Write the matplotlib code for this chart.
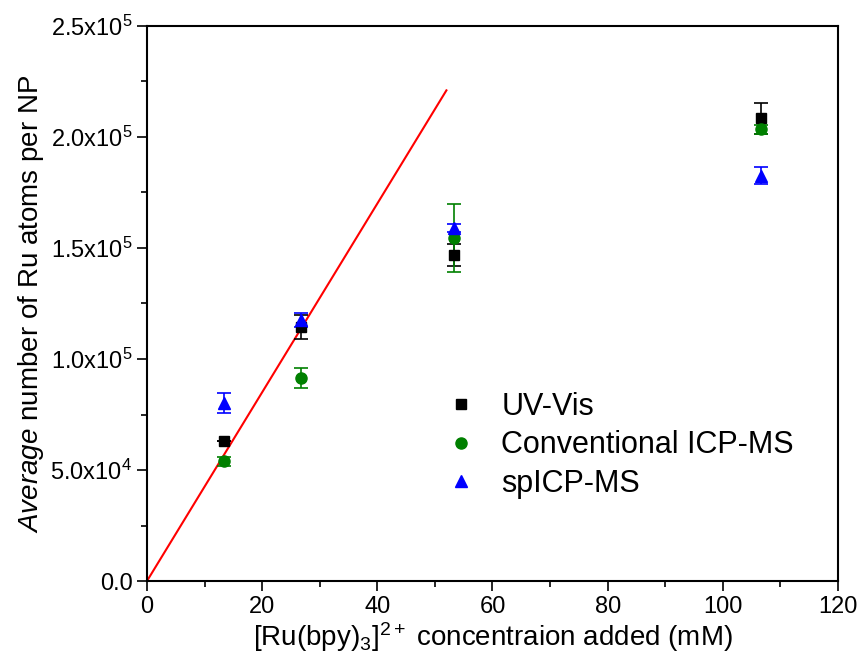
import matplotlib
matplotlib.use("Agg")
import matplotlib.pyplot as plt
from matplotlib.lines import Line2D
import numpy as np

plt.rcParams['font.family'] = ['Liberation Sans', 'DejaVu Sans']
plt.rcParams['mathtext.fontset'] = 'custom'
plt.rcParams['mathtext.rm'] = 'Liberation Sans'
plt.rcParams['mathtext.it'] = 'Liberation Sans:italic'
plt.rcParams['mathtext.default'] = 'regular'

conc = [13.3, 26.7, 53.3, 106.7]
uvvis = [6.3e4, 1.145e5, 1.47e5, 2.085e5]
uvvis_err = [0.0, 0.055e5, 0.05e5, 0.07e5]
conv = [5.4e4, 0.915e5, 1.545e5, 2.035e5]
conv_err = [0.02e5, 0.045e5, 0.155e5, 0.02e5]
sp = [8.0e4, 1.175e5, 1.59e5, 1.825e5]
sp_err = [0.045e5, 0.03e5, 0.02e5, 0.038e5]
fit_x = [0, 52.0]
fit_y = [0, 2.21e5]
labels = ['UV-Vis', 'Conventional ICP-MS', 'spICP-MS']

fig = plt.figure(figsize=(8.6, 6.66), dpi=100)
ax = fig.add_axes([0.1709, 0.1276, 0.8035, 0.8334])

ax.plot(fit_x, fit_y, color='red', lw=1.5, zorder=1)
ax.errorbar(conc, uvvis, yerr=uvvis_err, fmt='s', color='black', ms=7.5,
            capsize=5, elinewidth=1.2, capthick=1.2, zorder=3)
ax.errorbar(conc, conv, yerr=conv_err, fmt='o', color='green', ms=8,
            capsize=5, elinewidth=1.2, capthick=1.2, zorder=3)
ax.errorbar(conc, sp, yerr=sp_err, fmt='^', color='blue', ms=9,
            capsize=5, elinewidth=1.2, capthick=1.2, zorder=3)

ax.set_xlim(0, 120)
ax.set_ylim(0, 2.5e5)
ax.set_xticks(np.arange(0, 121, 20))
ax.set_xticks(np.arange(10, 120, 20), minor=True)
yt = np.arange(0, 2.51e5, 0.5e5)
ax.set_yticks(yt)
ax.set_yticks(np.arange(0.25e5, 2.5e5, 0.5e5), minor=True)
ylabels = ['0.0'] + [r'%.1fx10$^{%d}$' % (v / 10**int(np.floor(np.log10(v))), int(np.floor(np.log10(v)))) for v in yt[1:]]
ax.set_yticklabels(ylabels)

ax.tick_params(axis='both', which='major', direction='out', length=7, width=1.2, labelsize=17)
ax.tick_params(axis='both', which='minor', direction='out', length=4, width=1.2)
for s in ax.spines.values():
    s.set_linewidth(1.5)

ax.set_xlabel(r'[Ru(bpy)$_3$]$^{2+}$ concentraion added (mM)', fontsize=20, labelpad=2)
ax.set_ylabel(r'$\mathit{Average}$ number of Ru atoms per NP', fontsize=20, labelpad=3)

handles = [Line2D([], [], ls='none', marker='s', color='black', ms=7),
           Line2D([], [], ls='none', marker='o', color='green', ms=8),
           Line2D([], [], ls='none', marker='^', color='blue', ms=8.5)]
ax.legend(handles, labels, loc='upper left', bbox_to_anchor=(0.433, 0.341), frameon=False,
          fontsize=22, handletextpad=0.8, labelspacing=0.28, handlelength=1.0,
          borderpad=0, borderaxespad=0)

fig.savefig('out.png', dpi=100)
